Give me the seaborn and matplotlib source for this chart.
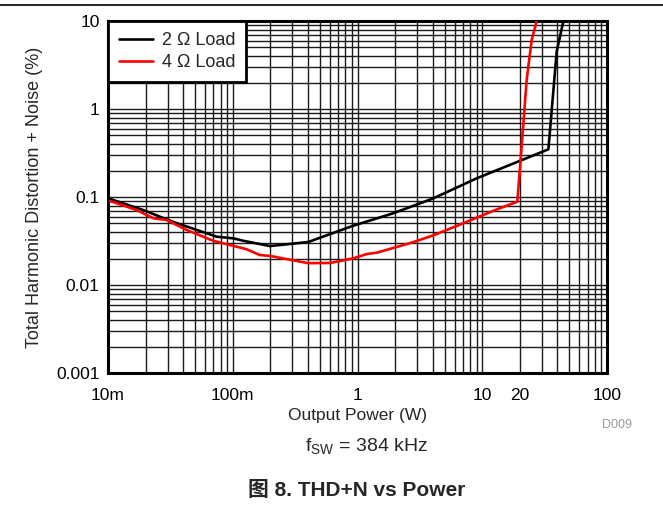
import numpy as np
import pandas as pd
import matplotlib
matplotlib.use("Agg")
import matplotlib.pyplot as plt
import matplotlib.ticker as mticker
from matplotlib.lines import Line2D
import seaborn as sns

# data
power_2ohm = [0.0104, 0.0192, 0.0334, 0.0743, 0.101, 0.1216, 0.199, 0.403, 0.925,
              1.94, 4.06, 9.02, 20.1, 33.9, 39.5, 44.7]
thdn_2ohm = [0.095, 0.071, 0.052, 0.0354, 0.0339, 0.0318, 0.0277, 0.0308, 0.0472,
             0.0654, 0.0966, 0.163, 0.258, 0.348, 4.48, 10.0]

power_4ohm = [0.0104, 0.017, 0.0231, 0.0295, 0.0427, 0.0698, 0.129, 0.165, 0.199,
              0.403, 0.603, 0.925, 1.19, 1.43, 2.72, 4.06, 7.05, 12.3, 19.1,
              20.3, 22.7, 24.9, 27.3]
thdn_4ohm = [0.090, 0.071, 0.0573, 0.0548, 0.0422, 0.0318, 0.0255, 0.0219, 0.0214,
             0.0177, 0.0178, 0.0201, 0.0225, 0.0233, 0.0303, 0.0367, 0.0503, 0.0698,
             0.0885, 0.263, 2.14, 6.08, 10.0]

load_labels = ["2 \u03a9 Load", "4 \u03a9 Load"]
x_ticks = [0.01, 0.1, 1, 10, 20, 100]
x_tick_labels = ["10m", "100m", "1", "10", "20", "100"]
y_ticks = [0.001, 0.01, 0.1, 1, 10]
y_tick_labels = ["0.001", "0.01", "0.1", "1", "10"]

df = pd.concat([
    pd.DataFrame({"power": power_2ohm, "thdn": thdn_2ohm, "load": load_labels[0]}),
    pd.DataFrame({"power": power_4ohm, "thdn": thdn_4ohm, "load": load_labels[1]}),
])

sns.set_style("white")
plt.rcParams['font.family'] = ['Liberation Sans', 'Noto Sans CJK SC', 'DejaVu Sans']

fig = plt.figure(figsize=(6.63, 5.14), dpi=100)
ax = fig.add_axes([108 / 663, 1 - 373 / 514, 499 / 663, 352 / 514])

sns.lineplot(data=df, x="power", y="thdn", hue="load", sort=False,
             palette=["black", "#ff0000"], linewidth=1.9, ax=ax, zorder=3)

ax.set_xscale("log")
ax.set_yscale("log")
ax.set_xlim(0.01, 100)
ax.set_ylim(0.001, 10)

ax.xaxis.set_major_locator(mticker.FixedLocator(x_ticks))
ax.xaxis.set_major_formatter(mticker.FixedFormatter(x_tick_labels))
ax.xaxis.set_minor_locator(mticker.LogLocator(base=10, subs=np.arange(2, 10)))
ax.xaxis.set_minor_formatter(mticker.NullFormatter())
ax.yaxis.set_major_locator(mticker.FixedLocator(y_ticks))
ax.yaxis.set_major_formatter(mticker.FixedFormatter(y_tick_labels))
ax.yaxis.set_minor_locator(mticker.LogLocator(base=10, subs=np.arange(2, 10)))
ax.yaxis.set_minor_formatter(mticker.NullFormatter())

ax.grid(True, which="both", color="#1a1a1a", linewidth=1.0)
ax.tick_params(which="both", length=0, labelsize=12.5, colors="black")
ax.tick_params(axis="x", pad=11)
ax.tick_params(axis="y", pad=6)

for s in ax.spines.values():
    s.set_color("black")
    s.set_linewidth(2.2)

ax.set_xlabel("Output Power (W)", fontsize=12.5)
ax.set_ylabel("Total Harmonic Distortion + Noise (%)", fontsize=13)
ax.xaxis.set_label_coords(0.5, -0.1)
ax.yaxis.set_label_coords(-0.13, 0.5)

leg = ax.legend(loc="upper left", fontsize=13, frameon=True, fancybox=False,
                borderaxespad=0, handlelength=1.9, borderpad=0.6,
                labelspacing=0.3, handletextpad=0.5)
leg.get_frame().set_edgecolor("black")
leg.get_frame().set_linewidth(2)
leg.get_frame().set_alpha(1)

fig.text(617 / 663, 1 - 425 / 514, "D009", fontsize=9, color="#999999", ha="center", va="center")
fig.text(366 / 663, 1 - 447 / 514, r"f$_{\mathregular{SW}}$ = 384 kHz", fontsize=14,
         ha="center", va="center")
fig.text(357 / 663, 1 - 490 / 514, "图 8. THD+N vs Power", fontsize=15,
         fontweight="bold", ha="center", va="center")
fig.add_artist(Line2D([0, 1], [1 - 5 / 514, 1 - 5 / 514], color="black", linewidth=1.2))

fig.savefig("out.png", dpi=100)
